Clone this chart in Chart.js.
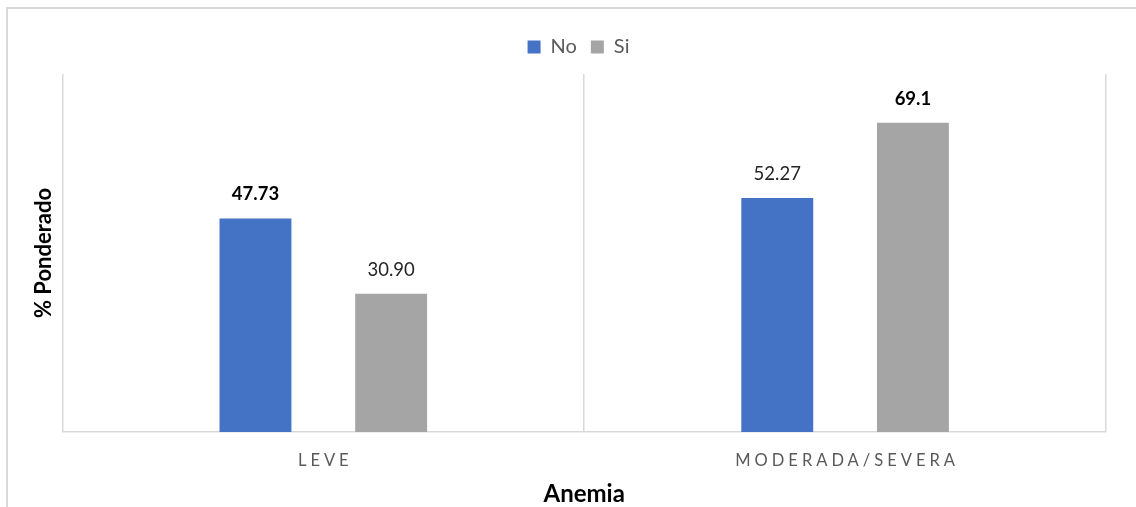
<!DOCTYPE html>
<html>
<head>
<meta charset="utf-8">
<script src="https://cdn.jsdelivr.net/npm/chart.js@4"></script>
<style>
  html, body { margin: 0; padding: 0; background: #fff; overflow: hidden; }
  #wrap { position: relative; width: 1136px; height: 507px; }
  #frame {
    position: absolute; left: 6px; top: 7px; width: 1200px; height: 600px;
    border: 2px solid #d9d9d9; box-sizing: border-box; pointer-events: none;
  }
</style>
</head>
<body>
<div id="wrap">
  <canvas id="chart" width="1136" height="507"></canvas>
  <div id="frame"></div>
</div>
<script>
const categories = ["LEVE", "MODERADA/SEVERA"];
const noValues = [47.73, 52.27];
const siValues = [30.9, 69.1];
const noLabels = ["47.73", "52.27"];
const siLabels = ["30.90", "69.1"];
const noBold = [true, false];
const siBold = [false, true];

const FONT = "Lato, 'Open Sans', sans-serif";

// value labels above each bar
const barLabels = {
  id: "barLabels",
  afterDatasetsDraw(chart) {
    const ctx = chart.ctx;
    const texts = [noLabels, siLabels];
    const bold = [noBold, siBold];
    ctx.save();
    ctx.textAlign = "center";
    ctx.textBaseline = "middle";
    chart.data.datasets.forEach((ds, i) => {
      chart.getDatasetMeta(i).data.forEach((bar, j) => {
        ctx.font = (bold[i][j] ? "bold " : "") + "18.5px " + FONT;
        ctx.fillStyle = bold[i][j] ? "#000" : "#262626";
        ctx.fillText(texts[i][j], bar.x, bar.y - 24);
      });
    });
    ctx.restore();
  }
};

// spaced-out category labels under the axis
const spacedTicks = {
  id: "spacedTicks",
  afterDraw(chart) {
    const ctx = chart.ctx;
    const x = chart.scales.x;
    ctx.save();
    ctx.font = "16.5px " + FONT;
    ctx.fillStyle = "#595959";
    ctx.textAlign = "center";
    ctx.textBaseline = "middle";
    ctx.letterSpacing = "4px";
    categories.forEach((c, i) => {
      ctx.fillText(c, x.getPixelForTick(i) + 2, x.top + 29);
    });
    ctx.restore();
  }
};

// legend: a bit more room below it, and nudged right like the original
const legendGap = {
  id: "legendGap",
  afterInit(chart) {
    const leg = chart.legend;
    if (!leg) return;
    const fit = leg.fit;
    leg.fit = function () {
      fit.call(this);
      this.height += 7;
    };
  },
  afterLayout(chart) {
    const leg = chart.legend;
    if (!leg) return;
    leg.left += 10;
    leg.right += 10;
  }
};

new Chart(document.getElementById("chart"), {
  type: "bar",
  data: {
    labels: categories,
    datasets: [
      { label: "No", data: noValues, backgroundColor: "#4472C4" },
      { label: "Si", data: siValues, backgroundColor: "#A5A5A5" }
    ]
  },
  options: {
    responsive: false,
    animation: false,
    layout: { padding: { left: 31, right: 30, top: 23, bottom: 0 } },
    datasets: { bar: { categoryPercentage: 0.52, barPercentage: 0.53 } },
    plugins: {
      tooltip: { enabled: false },
      legend: {
        position: "top",
        labels: {
          boxWidth: 13, boxHeight: 13, padding: 14,
          color: "#595959",
          font: { family: FONT, size: 20 }
        }
      }
    },
    scales: {
      x: {
        grid: { color: "#d9d9d9", lineWidth: 1.5, drawTicks: false, offset: true },
        border: { color: "#d9d9d9", width: 1.5 },
        ticks: { display: false },
        title: {
          display: true, text: "Anemia", color: "#000",
          font: { family: FONT, size: 24, weight: "bold", lineHeight: 1 },
          padding: { top: 50, bottom: 1 }
        }
      },
      y: {
        min: 0, max: 80,
        grid: { display: false, drawTicks: false },
        border: { display: false },
        ticks: { display: false },
        title: {
          display: true, text: "% Ponderado", color: "#000",
          font: { family: FONT, size: 22, weight: "bold" },
          padding: { top: 0, bottom: 5 }
        }
      }
    }
  },
  plugins: [barLabels, spacedTicks, legendGap]
});
</script>
</body>
</html>
